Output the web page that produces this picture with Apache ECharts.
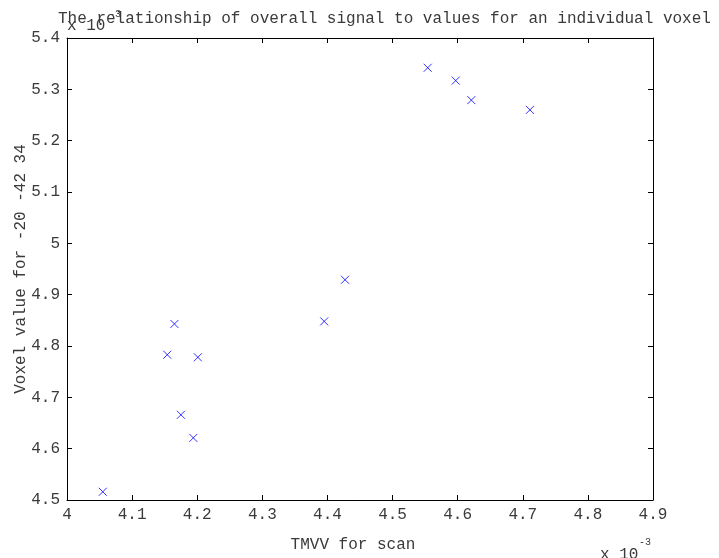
<!DOCTYPE html>
<html>
<head>
<meta charset="utf-8">
<script src="https://cdn.jsdelivr.net/npm/echarts@6/dist/echarts.min.js"></script>
<style>html,body{margin:0;padding:0;background:#fff;}#c{width:719px;height:558px;}</style>
</head>
<body>
<div id="c"></div>
<script>
// values in units of 1e-3
var tmvv = [4.055, 4.154, 4.165, 4.201, 4.175, 4.194, 4.395, 4.427, 4.554, 4.597, 4.621, 4.711];
var voxel = [4.516, 4.783, 4.843, 4.778, 4.666, 4.621, 4.848, 4.929, 5.342, 5.317, 5.279, 5.260];
var titleText = 'The relationship of overall signal to values for an individual voxel';
var xName = 'TMVV for scan';
var yName = 'Voxel value for -20 -42 34';

var pts = tmvv.map(function (x, i) { return [x, voxel[i]]; });
var FONT = '"Liberation Mono", "DejaVu Sans Mono", monospace';
var TXT = '#3a3a3a';
var chart = echarts.init(document.getElementById('c'));
function ax(pos, show) {
  return {
    type: 'value', position: pos,
    axisLine: { show: true, onZero: false, lineStyle: { color: '#000', width: 1 } },
    axisTick: { show: true, inside: true, length: 5, lineStyle: { color: '#000' } },
    splitLine: { show: false },
    axisLabel: { show: show, color: TXT, fontFamily: FONT, fontSize: 16, margin: 7 }
  };
}
var xb = ax('bottom', true); xb.min = 4; xb.max = 4.9; xb.interval = 0.1;
xb.name = xName; xb.nameLocation = 'middle'; xb.nameGap = 37; xb.nameMoveOverlap = false;
xb.nameTextStyle = { color: TXT, fontFamily: FONT, fontSize: 16, padding: [0, 14, 0, 0] };
var xt = ax('top', false); xt.min = 4; xt.max = 4.9; xt.interval = 0.1;
var yl = ax('left', true); yl.min = 4.5; yl.max = 5.4; yl.interval = 0.1;
yl.name = yName; yl.nameLocation = 'middle'; yl.nameGap = 38; yl.nameMoveOverlap = false;
yl.nameTextStyle = { color: TXT, fontFamily: FONT, fontSize: 16 };
var yr = ax('right', false); yr.min = 4.5; yr.max = 5.4; yr.interval = 0.1;
xb.axisLabel.formatter = function (v) { return +v.toFixed(1) + ''; };
yl.axisLabel.formatter = function (v) { return +v.toFixed(1) + ''; };

chart.setOption({
  animation: false,
  backgroundColor: '#fff',
  grid: { left: 67, right: 66, top: 38, bottom: 58 },
  xAxis: [xb, xt],
  yAxis: [yl, yr],
  graphic: [
    { type: 'text', left: 58, top: 11, style: { text: titleText, fill: TXT, font: '16px ' + FONT } },
    { type: 'text', left: 67, top: 18, style: { text: 'x 10', fill: TXT, font: '16px ' + FONT } },
    { type: 'text', left: 109, top: 9, style: { text: '-3', fill: TXT, font: '10px ' + FONT } },
    { type: 'text', left: 600, top: 547, style: { text: 'x 10', fill: TXT, font: '16px ' + FONT } },
    { type: 'text', left: 639, top: 537, style: { text: '-3', fill: TXT, font: '10px ' + FONT } }
  ],
  series: [{
    type: 'scatter',
    xAxisIndex: 0, yAxisIndex: 0,
    data: pts,
    symbol: 'path://M0,0L10,10M10,0L0,10',
    symbolSize: 8,
    itemStyle: { color: 'rgba(0,0,0,0)', borderColor: '#0000ff', borderWidth: 1 }
  }]
});
</script>
</body>
</html>
